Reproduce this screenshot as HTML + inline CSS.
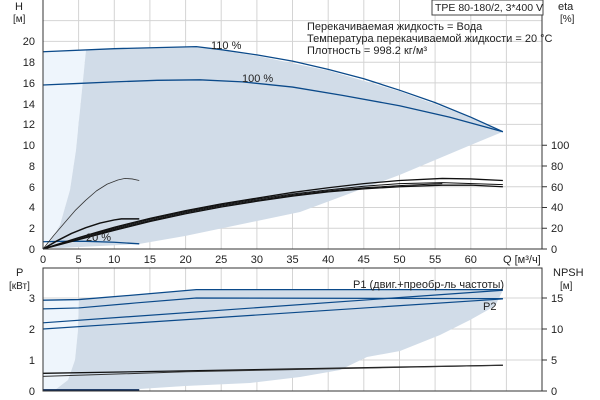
<!DOCTYPE html>
<html><head><meta charset="utf-8"><style>
body{margin:0;background:#fff}
svg{display:block;font-family:"Liberation Sans",sans-serif;font-size:11px}
.n{vector-effect:non-scaling-stroke;fill:none;stroke-linejoin:round}
</style></head><body>
<svg width="600" height="400" viewBox="0 0 600 400">
<g stroke="#d4d4d4" stroke-width="1">
<line x1="78.6" y1="0" x2="78.6" y2="249"/><line x1="114.3" y1="0" x2="114.3" y2="249"/><line x1="149.9" y1="0" x2="149.9" y2="249"/><line x1="185.6" y1="0" x2="185.6" y2="249"/><line x1="221.2" y1="0" x2="221.2" y2="249"/><line x1="256.9" y1="0" x2="256.9" y2="249"/><line x1="292.5" y1="0" x2="292.5" y2="249"/><line x1="328.2" y1="0" x2="328.2" y2="249"/><line x1="363.8" y1="0" x2="363.8" y2="249"/><line x1="399.5" y1="0" x2="399.5" y2="249"/><line x1="435.1" y1="0" x2="435.1" y2="249"/><line x1="470.8" y1="0" x2="470.8" y2="249"/><line x1="506.4" y1="0" x2="506.4" y2="249"/>
<line x1="43" y1="228.2" x2="542" y2="228.2"/><line x1="43" y1="207.5" x2="542" y2="207.5"/><line x1="43" y1="186.7" x2="542" y2="186.7"/><line x1="43" y1="166" x2="542" y2="166"/><line x1="43" y1="145.2" x2="542" y2="145.2"/><line x1="43" y1="124.4" x2="542" y2="124.4"/><line x1="43" y1="103.7" x2="542" y2="103.7"/><line x1="43" y1="82.9" x2="542" y2="82.9"/><line x1="43" y1="62.2" x2="542" y2="62.2"/><line x1="43" y1="41.4" x2="542" y2="41.4"/><line x1="43" y1="20.6" x2="542" y2="20.6"/>
</g>
<g stroke="#d4d4d4" stroke-width="1">
<line x1="78.6" y1="268" x2="78.6" y2="391"/><line x1="114.3" y1="268" x2="114.3" y2="391"/><line x1="149.9" y1="268" x2="149.9" y2="391"/><line x1="185.6" y1="268" x2="185.6" y2="391"/><line x1="221.2" y1="268" x2="221.2" y2="391"/><line x1="256.9" y1="268" x2="256.9" y2="391"/><line x1="292.5" y1="268" x2="292.5" y2="391"/><line x1="328.2" y1="268" x2="328.2" y2="391"/><line x1="363.8" y1="268" x2="363.8" y2="391"/><line x1="399.5" y1="268" x2="399.5" y2="391"/><line x1="435.1" y1="268" x2="435.1" y2="391"/><line x1="470.8" y1="268" x2="470.8" y2="391"/><line x1="506.4" y1="268" x2="506.4" y2="391"/>
<line x1="43" y1="360" x2="542" y2="360"/><line x1="43" y1="329" x2="542" y2="329"/><line x1="43" y1="298" x2="542" y2="298"/>
</g>
<polygon fill="#eef5fc" points="43,52 86,50 80,110 76,150 70,190 60,225 50,241 43,241"/>
<polygon fill="#d1dce8" points="86,50 114.3,48.7 196.3,46.6 256.9,55.9 328.2,70.5 399.5,91.2 470.8,117.2 502.9,131.7 470.8,145 399.5,175 300,212 185,236 139,244 100,246 60,248 45,248 50,242 60,225 70,190 76,150 80,110"/>
<polygon fill="#eef5fc" points="43,300 79,299 78,330 75,360 68,380 55,390 43,391"/>
<polygon fill="#d1dce8" points="79,299 196,290 503,290 495,306 470,320 440,335 400,351 367,357 340,370 300,377 250,383 185,386 139,389 60,391 55,390 68,380 75,360 78,330"/>
<g transform="translate(43,249) scale(7.13,-10.38)">
<polyline class="n" stroke="#0b4a8a" stroke-width="1.3" points="0,19 10,19.3 21.5,19.5 25,19.2 30,18.7 35,18.1 40,17.3 45,16.4 50,15.3 55,14.1 60,12.7 64.5,11.3"/>
<polyline class="n" stroke="#0b4a8a" stroke-width="1.3" points="0,15.8 5,15.95 10,16.1 16,16.25 22,16.3 28,16.1 35,15.6 42,14.8 50,13.8 57,12.7 64.5,11.3"/>
<polyline class="n" stroke="#0b4a8a" stroke-width="1.3" points="0,0.7 3,0.75 6,0.74 10,0.65 13.5,0.5"/>
<polyline class="n" stroke="#111" stroke-width="1.3" points="0,0 2.5,0.55 5,1.1 7.5,1.6 10,2.1 15,2.95 20,3.7 25,4.35 30,4.9 35,5.45 40,5.9 45,6.3 50,6.6 56,6.8 60,6.75 64.5,6.6"/>
<polyline class="n" stroke="#111" stroke-width="1" points="0,0 5,1.05 10,2.0 15,2.85 20,3.6 25,4.25 30,4.8 35,5.3 40,5.7 45,6.05 50,6.3 56,6.4 64.5,6.2"/>
<polyline class="n" stroke="#111" stroke-width="1" points="0,0 5,0.95 10,1.9 15,2.75 20,3.5 25,4.15 30,4.7 35,5.2 40,5.6 45,5.9 50,6.1 56,6.3"/>
<polyline class="n" stroke="#111" stroke-width="1.3" points="0,0 2.5,0.45 5,0.9 10,1.8 15,2.65 20,3.4 25,4.05 30,4.6 35,5.1 40,5.5 45,5.8 50,6.0 56,6.15 60,6.15 64.5,6.0"/>
<polyline class="n" stroke="#333" stroke-width="0.8" points="0,0 1.5,1.3 3,2.5 4.5,3.7 6,4.7 7.5,5.6 9,6.25 10.5,6.65 11.5,6.8 12.5,6.75 13.5,6.6"/>
<polyline class="n" stroke="#111" stroke-width="1.5" points="0,0 2,0.8 4,1.5 6,2.05 8,2.5 10,2.8 11,2.9 13.5,2.9"/>
</g>
<g transform="translate(43,391) scale(7.13,-31)">
<polyline class="n" stroke="#0b4a8a" stroke-width="1.3" points="0,2.93 5,2.95 13,3.1 21.5,3.27 64.5,3.27"/>
<polyline class="n" stroke="#0b4a8a" stroke-width="1.2" points="0,2.65 5,2.68 13,2.84 21.5,3.0 64.5,2.98"/>
<polyline class="n" stroke="#0b4a8a" stroke-width="1.2" points="0,2.2 64.5,3.25"/>
<polyline class="n" stroke="#0b4a8a" stroke-width="1.2" points="0,2.0 64.5,2.97"/>
<polyline class="n" stroke="#111" stroke-width="1.3" points="0,0.57 64.5,0.83"/>
<polyline class="n" stroke="#333" stroke-width="1" points="0,0.47 20,0.62 64.5,0.83"/>
<polyline class="n" stroke="#0b2a5a" stroke-width="2" points="0,0.03 13.5,0.03"/>
</g>
<g stroke="#333" stroke-width="1" fill="none">
<line x1="43" y1="0" x2="43" y2="249"/><line x1="43" y1="249" x2="542" y2="249"/><line x1="542" y1="0" x2="542" y2="249"/>
<rect x="43" y="268" width="499" height="123"/>
<path d="M542,249h5M542,228.2h5M542,207.5h5M542,186.7h5M542,166h5M542,145.2h5"/>
<path d="M542,391h5M542,360h5M542,329h5M542,298h5"/>
</g>
<g fill="#222">
<text x="15" y="10">H</text><text x="13" y="22" font-size="10">[м]</text>
<text x="558" y="10">eta</text><text x="560" y="22" font-size="10">[%]</text>
<g text-anchor="end">
<text x="35" y="253">0</text><text x="35" y="232">2</text><text x="35" y="211">4</text><text x="35" y="191">6</text><text x="35" y="170">8</text><text x="35" y="149">10</text><text x="35" y="128">12</text><text x="35" y="108">14</text><text x="35" y="87">16</text><text x="35" y="66">18</text><text x="35" y="45">20</text>
</g>
<text x="551" y="253">0</text><text x="551" y="232">20</text><text x="551" y="211">40</text><text x="551" y="191">60</text><text x="551" y="170">80</text><text x="551" y="149">100</text>
<g text-anchor="middle">
<text x="43" y="263">0</text><text x="78.6" y="263">5</text><text x="114.3" y="263">10</text><text x="149.9" y="263">15</text><text x="185.6" y="263">20</text><text x="221.2" y="263">25</text><text x="256.9" y="263">30</text><text x="292.5" y="263">35</text><text x="328.2" y="263">40</text><text x="363.8" y="263">45</text><text x="399.5" y="263">50</text><text x="435.1" y="263">55</text><text x="470.8" y="263">60</text>
</g>
<text x="503" y="263">Q [м³/ч]</text>
<text x="211" y="49">110 %</text><text x="242" y="82">100 %</text><text x="86" y="241">20 %</text>
<rect x="432" y="0" width="111" height="15" fill="#fff" stroke="#444"/>
<text x="435" y="11" font-size="10.5">TPE 80-180/2, 3*400 V</text>
<text x="307" y="30">Перекачиваемая жидкость = Вода</text>
<text x="307" y="42">Температура перекачиваемой жидкости = 20 °C</text>
<text x="307" y="54">Плотность = 998.2 кг/м³</text>
<text x="16" y="276">P</text><text x="9" y="289" font-size="10">[кВт]</text>
<text x="553" y="276">NPSH</text><text x="560" y="289" font-size="10">[м]</text>
<g text-anchor="end">
<text x="35" y="395">0</text><text x="35" y="364">1</text><text x="35" y="333">2</text><text x="35" y="302">3</text>
</g>
<text x="551" y="395">0</text><text x="551" y="364">5</text><text x="551" y="333">10</text><text x="551" y="302">15</text>
<text x="353" y="288">P1 (двиг.+преобр-ль частоты)</text>
<text x="483" y="310">P2</text>
</g>
</svg>
</body></html>
